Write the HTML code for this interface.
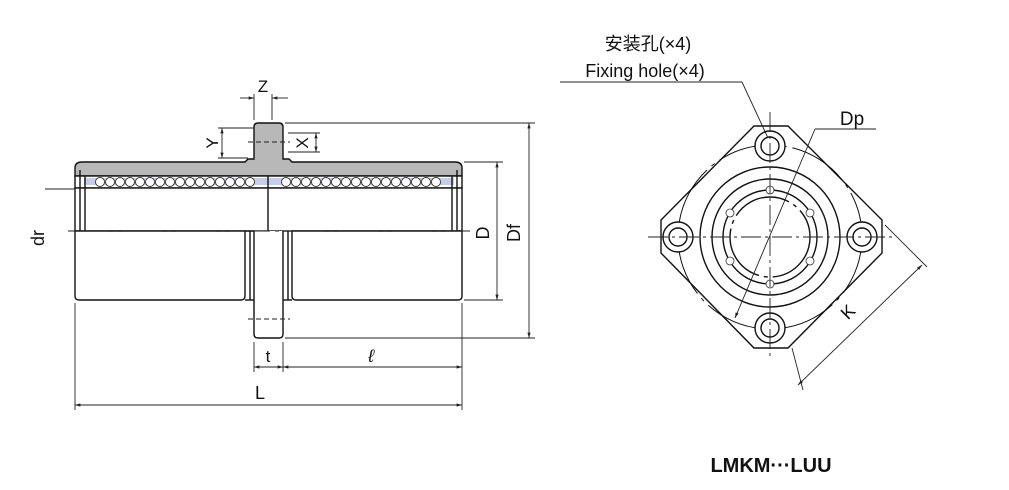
<!DOCTYPE html>
<html><head><meta charset="utf-8"><style>
html,body{margin:0;padding:0;background:#fff;}
svg{display:block;}
text{font-family:"Liberation Sans","Noto Sans CJK SC",sans-serif;fill:#111;}
</style></head><body>
<svg width="1009" height="490" viewBox="0 0 1009 490" xmlns="http://www.w3.org/2000/svg">
<defs>
<marker id="a" viewBox="0 0 10 10" refX="10" refY="5" markerWidth="8" markerHeight="6" orient="auto-start-reverse"><path d="M0,2 L10,5 L0,8z" fill="#222"/></marker>
</defs>
<g stroke="#111" stroke-width="1.4" fill="none">
<path d="M75,168 Q75,162 82,162 L245,162 L248,159 L254,159 L254,127 Q254,123 258,123 L279,123 Q283,123 283,127 L283,159 L289,159 L292,162 L455,162 Q462,162 462,168 L462,176 L75,176 Z" fill="#b8b8b8"/>
<rect x="75" y="176" width="387" height="12" fill="#fff"/>
<rect x="84" y="178" width="370" height="7" fill="#c6cde8" stroke="none"/>
<rect x="75" y="188" width="387" height="43" fill="#fff"/>
<line x1="80" y1="170" x2="80" y2="231"/><line x1="85" y1="176" x2="85" y2="231"/>
<line x1="457" y1="170" x2="457" y2="231"/><line x1="452" y1="176" x2="452" y2="231"/>
<line x1="268" y1="176" x2="268" y2="231"/>
<path d="M75,231 L245,231 L245,296 Q245,300 241,300 L79,300 Q75,300 75,296 Z" fill="#fff"/>
<path d="M292,231 L462,231 L462,296 Q462,300 458,300 L296,300 Q292,300 292,296 Z" fill="#fff"/>
<line x1="245" y1="231" x2="254" y2="231"/>
<line x1="250" y1="231" x2="250" y2="300"/><line x1="245" y1="300" x2="254" y2="300"/>
<line x1="288" y1="231" x2="288" y2="300"/><line x1="283" y1="300" x2="292" y2="300"/>
<path d="M254,231 L254,334 Q254,338 258,338 L279,338 Q283,338 283,334 L283,231" fill="#fff"/>
</g>
<g stroke="#333" stroke-width="0.9" fill="#fff">
<circle cx="100" cy="182" r="4.5"/><circle cx="110" cy="182" r="4.5"/><circle cx="120" cy="182" r="4.5"/><circle cx="130" cy="182" r="4.5"/><circle cx="140" cy="182" r="4.5"/><circle cx="150" cy="182" r="4.5"/><circle cx="160" cy="182" r="4.5"/><circle cx="170" cy="182" r="4.5"/><circle cx="180" cy="182" r="4.5"/><circle cx="190" cy="182" r="4.5"/><circle cx="200" cy="182" r="4.5"/><circle cx="210" cy="182" r="4.5"/><circle cx="220" cy="182" r="4.5"/><circle cx="230" cy="182" r="4.5"/><circle cx="240" cy="182" r="4.5"/><circle cx="250" cy="182" r="4.5"/>
<circle cx="286" cy="182" r="4.5"/><circle cx="296" cy="182" r="4.5"/><circle cx="306" cy="182" r="4.5"/><circle cx="316" cy="182" r="4.5"/><circle cx="326" cy="182" r="4.5"/><circle cx="336" cy="182" r="4.5"/><circle cx="346" cy="182" r="4.5"/><circle cx="356" cy="182" r="4.5"/><circle cx="366" cy="182" r="4.5"/><circle cx="376" cy="182" r="4.5"/><circle cx="386" cy="182" r="4.5"/><circle cx="396" cy="182" r="4.5"/><circle cx="406" cy="182" r="4.5"/><circle cx="416" cy="182" r="4.5"/><circle cx="426" cy="182" r="4.5"/><circle cx="436" cy="182" r="4.5"/>
</g>
<g stroke="#222" stroke-width="0.9" fill="none">
<line x1="68" y1="231" x2="470" y2="231" stroke-dasharray="40,5,4,5"/>
<line x1="248" y1="142" x2="290" y2="142" stroke-dasharray="5,3"/>
<line x1="248" y1="319" x2="290" y2="319" stroke-dasharray="5,3"/>
<line x1="45" y1="189" x2="75" y2="189"/>
<line x1="254" y1="120" x2="254" y2="94"/><line x1="272" y1="120" x2="272" y2="94"/>
<line x1="240" y1="98" x2="254" y2="98" marker-end="url(#a)"/><line x1="288" y1="98" x2="272" y2="98" marker-end="url(#a)"/>
<line x1="218" y1="128" x2="254" y2="128"/><line x1="218" y1="158" x2="248" y2="158"/>
<line x1="222" y1="128" x2="222" y2="158" marker-start="url(#a)" marker-end="url(#a)"/>
<line x1="288" y1="133" x2="320" y2="133"/><line x1="288" y1="152" x2="320" y2="152"/>
<line x1="316" y1="133" x2="316" y2="152" marker-start="url(#a)" marker-end="url(#a)"/>
<line x1="285" y1="123" x2="535" y2="123"/><line x1="285" y1="338" x2="535" y2="338"/>
<line x1="529" y1="123" x2="529" y2="338" marker-start="url(#a)" marker-end="url(#a)"/>
<line x1="464" y1="162" x2="503" y2="162"/><line x1="464" y1="300" x2="503" y2="300"/>
<line x1="497" y1="162" x2="497" y2="300" marker-start="url(#a)" marker-end="url(#a)"/>
<line x1="254" y1="342" x2="254" y2="372"/><line x1="283" y1="342" x2="283" y2="372"/>
<line x1="462" y1="303" x2="462" y2="410"/><line x1="75" y1="303" x2="75" y2="410"/>
<line x1="254" y1="367" x2="283" y2="367" marker-start="url(#a)" marker-end="url(#a)"/>
<line x1="283" y1="367" x2="462" y2="367" marker-start="url(#a)" marker-end="url(#a)"/>
<line x1="75" y1="405" x2="462" y2="405" marker-start="url(#a)" marker-end="url(#a)"/>
</g>
<text x="263" y="92" font-size="17" text-anchor="middle">Z</text>
<text x="212" y="143" font-size="17" text-anchor="middle" transform="rotate(-90 212 143)" dy="6">Y</text>
<text x="302" y="143" font-size="17" text-anchor="middle" transform="rotate(-90 302 143)" dy="6">X</text>
<text x="38" y="238" font-size="18" text-anchor="middle" transform="rotate(-90 38 238)" dy="6">dr</text>
<text x="483" y="233" font-size="18" text-anchor="middle" transform="rotate(-90 483 233)" dy="6">D</text>
<text x="514" y="233" font-size="18" text-anchor="middle" transform="rotate(-90 514 233)" dy="6">Df</text>
<text x="268" y="362" font-size="17" text-anchor="middle" font-family="Liberation Serif">t</text>
<text x="371" y="362" font-size="18" text-anchor="middle" font-family="Liberation Serif" font-style="italic">ℓ</text>
<text x="260" y="399" font-size="18" text-anchor="middle">L</text>
<g stroke="#111" stroke-width="1.4" fill="none">
<path d="M754,126 L788,126 L882,220 L882,253 L788,348 L754,348 L661,253 L661,220 Z" fill="#fff"/>
<circle cx="770" cy="237" r="92" stroke-width="1" stroke-dasharray="60,6,4,6"/>
<circle cx="770" cy="237" r="70"/><circle cx="770" cy="237" r="58"/>
<circle cx="770" cy="237" r="47"/><circle cx="770" cy="237" r="40" stroke-dasharray="60,5,4,5"/>
<circle cx="770" cy="146" r="15" fill="#fff"/><circle cx="770" cy="146" r="9"/>
<circle cx="770" cy="328" r="15" fill="#fff"/><circle cx="770" cy="328" r="9"/>
<circle cx="678" cy="237" r="15" fill="#fff"/><circle cx="678" cy="237" r="9"/>
<circle cx="862" cy="237" r="15" fill="#fff"/><circle cx="862" cy="237" r="9"/>
</g>
<g stroke="#333" stroke-width="0.8" fill="#fff">
<circle cx="770" cy="190" r="4"/><circle cx="770" cy="284" r="4"/>
<circle cx="730" cy="213" r="4"/><circle cx="810" cy="213" r="4"/>
<circle cx="730" cy="261" r="4"/><circle cx="810" cy="261" r="4"/>
</g>
<g stroke="#222" stroke-width="0.9" fill="none">
<line x1="648" y1="237" x2="892" y2="237" stroke-dasharray="20,4,3,4"/>
<line x1="770" y1="112" x2="770" y2="360" stroke-dasharray="20,4,3,4"/>
<line x1="560" y1="82" x2="742" y2="82"/><line x1="742" y1="82" x2="768" y2="138"/>
<line x1="815" y1="129" x2="876" y2="129"/>
<line x1="815" y1="129" x2="735" y2="318" marker-end="url(#a)"/>
<line x1="885" y1="225" x2="927" y2="267"/><line x1="792" y1="348" x2="803" y2="390"/>
<line x1="922" y1="265" x2="798" y2="385" marker-start="url(#a)" marker-end="url(#a)"/>
</g>
<text x="648" y="50" font-size="18" text-anchor="middle">安装孔(×4)</text>
<text x="645" y="77" font-size="18" text-anchor="middle">Fixing hole(×4)</text>
<text x="852" y="125" font-size="19" text-anchor="middle">Dp</text>
<text x="848" y="312" font-size="18" text-anchor="middle" transform="rotate(-45 848 312)" dy="6">K</text>
<text x="771" y="472" font-size="20" font-weight="bold" text-anchor="middle">LMKM···LUU</text>
</svg>
</body></html>
